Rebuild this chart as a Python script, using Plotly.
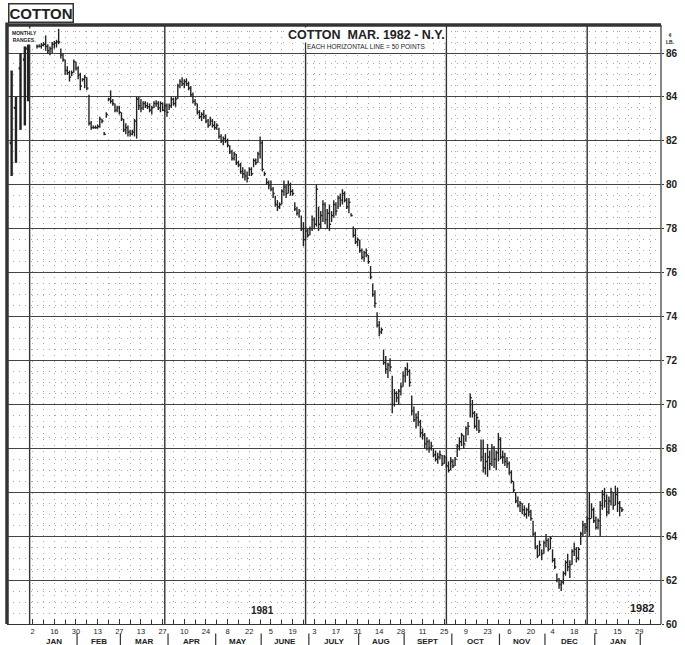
import plotly.graph_objects as go

# ---------------- data ----------------
# trading-day index: 0 = Fri Jan 2 1981, 5 trading days per week
first_day = 2

highs = [
    86.40, 86.40, 86.45, 86.50, 86.80, 86.40, 86.30, 86.50, 86.55, 86.60,
    87.10, 86.20, 86.00, 85.70, 85.40, 85.20, 85.20, 85.70, 85.60, 85.40,
    85.10, 84.85, 85.00, 84.90, 84.10, 82.90, 82.70, 82.70, 82.75, 83.10,
    83.00, 82.40, 83.30, 83.95, 84.30, 83.90, 83.70, 83.60, 83.60, 83.30,
    83.00, 82.80, 82.70, 82.50, 82.50, 83.00, 84.00, 84.00, 83.90, 83.80,
    83.80, 83.75, 83.70, 83.60, 83.80, 83.85, 83.80, 83.80, 83.75, 83.70,
    83.70, 83.70, 84.00, 83.95, 84.00, 84.60, 84.80, 84.90, 84.80, 84.85,
    84.70, 84.50, 84.20, 83.90, 83.70, 83.40, 83.30, 83.40, 83.20, 83.00,
    83.10, 83.00, 82.90, 82.80, 82.60, 82.30, 82.20, 82.30, 82.10, 81.80,
    81.60, 81.50, 81.40, 81.10, 81.00, 80.80, 80.70, 80.60, 80.80, 80.80,
    81.20, 81.20, 81.50, 82.20, 82.00, 80.60, 80.30, 80.20, 80.20, 79.90,
    79.50, 79.30, 79.20, 79.80, 80.20, 80.00, 80.20, 80.10, 79.80, 79.20,
    79.00, 78.90, 78.60, 78.30, 78.10, 78.00, 78.10, 78.60, 78.50, 80.00,
    79.00, 78.80, 79.30, 79.20, 78.90, 79.10, 78.80, 79.30, 79.20, 79.50,
    79.60, 79.80, 79.70, 79.40, 79.40, 78.70, 78.10, 78.00, 77.60, 77.50,
    77.10, 77.00, 77.10, 76.80, 76.30, 75.50, 75.20, 74.20, 73.80, 73.50,
    72.50, 72.20, 71.90, 72.10, 71.30, 70.70, 70.60, 70.70, 71.00, 71.50,
    71.70, 71.90, 71.60, 70.40, 69.90, 69.60, 69.70, 69.30, 68.90, 68.70,
    68.50, 68.40, 68.30, 68.00, 67.90, 67.80, 67.90, 67.70, 67.70, 67.60,
    67.40, 67.60, 67.50, 67.60, 68.20, 68.50, 68.70, 68.60, 69.00, 69.20,
    70.50, 70.20, 69.70, 69.60, 69.30, 68.40, 68.40, 67.80, 68.20, 67.90,
    68.20, 68.10, 67.90, 68.70, 68.50, 67.90, 67.80, 67.60, 67.40, 67.00,
    66.50, 66.00, 65.80, 65.60, 65.50, 65.40, 65.30, 65.50, 65.20, 64.70,
    64.20, 63.60, 63.80, 63.40, 63.80, 64.10, 63.90, 64.00, 63.40, 63.00,
    62.30, 62.10, 62.00, 62.40, 62.90, 63.20, 62.90, 63.40, 63.70, 63.50,
    63.50, 64.20, 64.70, 64.60, 64.90, 66.00, 65.50, 65.30, 64.90, 64.80,
    65.60, 66.10, 66.20, 65.90, 65.80, 66.20, 66.00, 66.30, 66.20, 65.60,
    65.30,
]

lows = [
    86.20, 86.25, 86.20, 86.30, 86.10, 85.95, 85.90, 86.00, 86.20, 86.25,
    86.40, 85.75, 85.60, 85.00, 85.00, 84.70, 84.95, 85.10, 85.20, 84.80,
    84.30, 84.70, 84.40, 84.30, 82.70, 82.50, 82.55, 82.55, 82.55, 82.60,
    82.80, 82.25, 83.05, 83.80, 83.70, 83.60, 83.30, 83.30, 83.20, 82.90,
    82.40, 82.30, 82.20, 82.20, 82.25, 82.20, 82.10, 83.40, 83.30, 83.40,
    83.50, 83.45, 83.30, 83.20, 83.50, 83.55, 83.40, 83.30, 83.35, 83.30,
    83.10, 83.40, 83.50, 83.60, 83.55, 83.90, 84.40, 84.50, 84.40, 84.50,
    84.30, 84.00, 83.70, 83.60, 83.20, 83.00, 82.90, 83.00, 82.80, 82.60,
    82.70, 82.60, 82.50, 82.50, 82.10, 81.90, 81.80, 81.90, 81.70, 81.40,
    81.10, 81.10, 80.90, 80.80, 80.50, 80.30, 80.20, 80.10, 80.40, 80.40,
    80.80, 80.90, 81.00, 81.20, 80.60, 80.40, 80.00, 79.80, 79.70, 79.40,
    79.00, 78.80, 78.90, 79.10, 79.50, 79.40, 79.60, 79.50, 79.50, 78.80,
    78.60, 78.50, 77.90, 77.20, 77.50, 77.60, 77.70, 77.90, 78.00, 78.10,
    77.90, 78.00, 78.30, 78.20, 78.00, 77.90, 78.30, 78.50, 78.60, 78.90,
    79.00, 79.10, 79.20, 78.90, 78.70, 78.55, 77.60, 77.30, 77.20, 76.90,
    76.60, 76.50, 76.70, 76.40, 75.70, 74.90, 74.40, 73.50, 73.10, 73.20,
    71.80, 71.40, 71.20, 71.50, 69.60, 69.90, 70.10, 70.00, 70.40, 70.80,
    71.00, 71.30, 70.80, 69.50, 69.20, 68.90, 69.00, 68.50, 68.40, 68.00,
    67.90, 67.80, 67.90, 67.60, 67.40, 67.30, 67.50, 67.20, 67.30, 67.10,
    66.90, 67.00, 67.10, 67.20, 67.60, 67.90, 68.10, 68.00, 68.30, 68.60,
    69.40, 69.40, 68.90, 68.80, 68.70, 67.40, 66.90, 66.80, 66.70, 67.00,
    67.20, 67.10, 67.00, 67.40, 67.50, 67.30, 67.20, 67.10, 66.80, 66.40,
    66.00, 65.50, 65.30, 65.10, 65.00, 64.90, 64.80, 64.90, 64.70, 64.00,
    63.40, 63.00, 63.10, 62.90, 63.20, 63.50, 63.30, 63.40, 62.80, 62.50,
    61.90, 61.60, 61.50, 61.80, 62.20, 62.40, 62.10, 62.70, 63.10, 62.80,
    62.90, 63.60, 64.00, 64.10, 64.20, 64.00, 64.80, 64.60, 64.30, 64.30,
    64.00, 65.20, 65.30, 64.90, 65.00, 65.40, 65.20, 65.40, 65.10, 64.90,
    65.10,
]

closes = [
    86.30, 86.30, 86.35, 86.40, 86.30, 86.10, 86.20, 86.40, 86.45, 86.50,
    86.50, 85.90, 85.70, 85.20, 85.10, 84.90, 85.10, 85.60, 85.30, 85.00,
    84.50, 84.80, 84.90, 84.40, 82.80, 82.60, 82.60, 82.60, 82.65, 83.00,
    82.90, 82.30, 83.20, 83.90, 83.80, 83.70, 83.40, 83.50, 83.30, 83.00,
    82.50, 82.60, 82.40, 82.30, 82.40, 82.90, 83.90, 83.60, 83.50, 83.70,
    83.60, 83.55, 83.40, 83.50, 83.70, 83.70, 83.50, 83.70, 83.40, 83.60,
    83.30, 83.60, 83.90, 83.70, 83.90, 84.50, 84.70, 84.60, 84.70, 84.60,
    84.40, 84.10, 83.80, 83.70, 83.30, 83.10, 83.20, 83.10, 82.90, 82.70,
    82.90, 82.70, 82.60, 82.70, 82.20, 82.00, 82.10, 82.00, 81.80, 81.50,
    81.20, 81.40, 81.00, 80.90, 80.60, 80.50, 80.40, 80.30, 80.70, 80.50,
    81.10, 81.00, 81.40, 81.90, 80.70, 80.50, 80.10, 80.00, 79.80, 79.60,
    79.10, 79.00, 79.10, 79.70, 79.90, 79.60, 80.00, 79.70, 79.60, 78.90,
    78.70, 78.80, 78.00, 77.50, 77.90, 77.70, 78.00, 78.40, 78.20, 79.80,
    78.20, 78.60, 79.10, 78.40, 78.70, 78.20, 78.60, 79.10, 78.80, 79.40,
    79.30, 79.60, 79.30, 79.00, 79.20, 78.60, 77.70, 77.40, 77.50, 77.00,
    76.70, 76.90, 76.80, 76.50, 75.80, 75.00, 74.60, 73.60, 73.30, 73.40,
    71.90, 71.60, 71.80, 71.70, 70.00, 70.50, 70.30, 70.60, 70.80, 71.30,
    71.60, 71.50, 71.00, 69.70, 69.30, 69.40, 69.20, 68.70, 68.60, 68.20,
    68.30, 68.00, 68.10, 67.70, 67.50, 67.60, 67.70, 67.30, 67.60, 67.20,
    67.00, 67.40, 67.20, 67.50, 68.10, 68.30, 68.60, 68.20, 68.90, 69.00,
    70.30, 69.60, 69.00, 69.40, 68.80, 67.60, 67.10, 67.40, 67.60, 67.30,
    68.00, 67.50, 67.80, 68.40, 67.60, 67.60, 67.40, 67.30, 66.90, 66.50,
    66.10, 65.60, 65.40, 65.50, 65.20, 65.00, 65.20, 65.10, 64.80, 64.10,
    63.50, 63.10, 63.60, 63.20, 63.70, 63.80, 63.40, 63.90, 62.90, 62.60,
    62.00, 61.80, 61.90, 62.30, 62.80, 62.60, 62.70, 63.30, 63.40, 63.00,
    63.40, 64.10, 64.50, 64.40, 64.80, 64.80, 65.20, 64.70, 64.40, 64.70,
    65.40, 65.90, 65.60, 65.10, 65.60, 66.00, 65.40, 65.90, 65.50, 65.30,
    65.20,
]

# monthly ranges panel (left strip)
monthly_pos = [-9.7, -7.7, -5.6, -3.6, -2.1]
monthly_high = [85.2, 84.0, 86.0, 86.3, 86.6]
monthly_low = [80.4, 81.0, 82.5, 82.7, 83.8]
monthly_close = [81.9, 83.5, 85.3, 85.7, 86.2]

# date axis (Fridays, every two weeks)
tick_days = [0, 10, 20, 30, 40, 50, 60, 70, 80, 90, 100, 110, 120, 130, 140,
             150, 160, 170, 180, 190, 200, 210, 220, 230, 240, 250, 260, 270, 280]
tick_labels = ["2", "16", "30", "13", "27", "13", "27", "10", "24", "8", "22",
               "5", "19", "3", "17", "31", "14", "28", "11", "25", "9", "23",
               "6", "20", "4", "18", "1", "15", "29"]
month_names = ["JAN", "FEB", "MAR", "APR", "MAY", "JUNE", "JULY", "AUG",
               "SEPT", "OCT", "NOV", "DEC", "JAN"]
month_ends = [-0.5, 20.5, 40.5, 62.5, 84.5, 105.5, 127.5, 150.5, 171.5,
              193.5, 215.5, 236.5, 259.5, 280.5]
quarter_lines = [-1.4, 61, 126, 191, 256]
price_ticks = list(range(60, 88, 2))

FONT = "Liberation Sans, Arial, sans-serif"
INK = "#222222"
GRID_MINOR = "#a8a8a8"

# ---------------- build figure ----------------
bx, by = [], []
for k, (h, l, c) in enumerate(zip(highs, lows, closes)):
    d = first_day + k
    bx += [d, d, None, d, d + 0.75, None]
    by += [l, h, None, c, c, None]

mx, my = [], []
for p, h, l, c in zip(monthly_pos, monthly_high, monthly_low, monthly_close):
    mx += [p, p, None, p - 0.9, p, None]
    my += [l, h, None, c, c, None]

fig = go.Figure()
fig.add_trace(go.Scatter(x=bx, y=by, mode="lines", line=dict(color=INK, width=1.4),
                         hoverinfo="skip", showlegend=False))
fig.add_trace(go.Scatter(x=mx, y=my, mode="lines", line=dict(color=INK, width=2.4),
                         hoverinfo="skip", showlegend=False))

shapes = []
for q in quarter_lines:
    shapes.append(dict(type="line", xref="x", yref="paper", x0=q, x1=q, y0=0, y1=1,
                       line=dict(color="#333333", width=1.4), layer="below"))
for m in month_ends[1:]:
    shapes.append(dict(type="line", xref="x", yref="paper", x0=m, x1=m, y0=-0.016, y1=-0.04,
                       line=dict(color="#333333", width=1.2)))
# frame
shapes.append(dict(type="line", xref="paper", yref="paper", x0=0, x1=1, y0=1, y1=1,
                   line=dict(color="#333333", width=3.5)))
shapes.append(dict(type="line", xref="paper", yref="paper", x0=0, x1=0, y0=0, y1=1.004,
                   line=dict(color="#333333", width=3.5)))
shapes.append(dict(type="line", xref="paper", yref="paper", x0=1, x1=1, y0=0, y1=1,
                   line=dict(color="#333333", width=1.2)))

annotations = []
annotations.append(dict(text="<b>COTTON</b>", xref="paper", yref="paper", x=0.0015, y=1.0195,
                        xanchor="left", yanchor="middle", showarrow=False,
                        font=dict(family=FONT, size=15, color=INK),
                        bordercolor="#333333", borderwidth=1.5, borderpad=0, bgcolor="white"))
annotations.append(dict(text="<b>COTTON  MAR. 1982 - N.Y.</b>", xref="paper", yref="paper",
                        x=0.549, y=0.9835, xanchor="center", yanchor="middle", showarrow=False,
                        font=dict(family=FONT, size=12.5, color=INK), bgcolor="white", borderpad=0))
annotations.append(dict(text="EACH HORIZONTAL LINE = 50 POINTS", xref="paper", yref="paper",
                        x=0.549, y=0.964, xanchor="center", yanchor="middle", showarrow=False,
                        font=dict(family=FONT, size=6.5, color=INK), bgcolor="white", borderpad=0))
annotations.append(dict(text="<b>¢<br>LB.</b>", xref="paper", yref="paper", x=1.004, y=0.992,
                        xanchor="left", yanchor="top", showarrow=False,
                        font=dict(family=FONT, size=5, color=INK)))
annotations.append(dict(text="<b>MONTHLY<br>RANGES.</b>", xref="paper", yref="paper", x=0.004,
                        y=0.995, xanchor="left", yanchor="top", showarrow=False, align="center",
                        font=dict(family=FONT, size=5, color=INK), bgcolor="white"))
annotations.append(dict(text="<b>1981</b>", xref="paper", yref="paper", x=0.391, y=0.023,
                        xanchor="center", yanchor="middle", showarrow=False,
                        font=dict(family=FONT, size=10, color=INK)))
annotations.append(dict(text="<b>1982</b>", xref="paper", yref="paper", x=0.971, y=0.027,
                        xanchor="center", yanchor="middle", showarrow=False,
                        font=dict(family=FONT, size=11, color=INK)))
for name, a, b in zip(month_names, month_ends[:-1], month_ends[1:]):
    annotations.append(dict(text="<b>" + name + "</b>", xref="x", yref="paper", x=(a + b) / 2,
                            y=-0.0185, xanchor="center", yanchor="top", showarrow=False,
                            font=dict(family=FONT, size=8, color=INK)))

fig.update_layout(
    width=685, height=645,
    margin=dict(l=7, r=15, t=25, b=21),
    paper_bgcolor="white", plot_bgcolor="white",
    showlegend=False,
    shapes=shapes, annotations=annotations,
    xaxis=dict(range=[-11.84, 290.07], tickmode="array", tickvals=tick_days, ticktext=tick_labels,
               ticks="inside", ticklen=5, tickcolor="#333333", tickwidth=1,
               tickfont=dict(family=FONT, size=7.5, color=INK),
               showgrid=False, zeroline=False, showline=True, linecolor="#333333", linewidth=1.3,
               minor=dict(tickmode="array", tickvals=list(range(0, 290, 5)), ticks="inside",
                          ticklen=4, tickcolor="#333333", showgrid=True, gridcolor=GRID_MINOR,
                          griddash="1px,5px", gridwidth=1)),
    yaxis=dict(range=[60, 87.275], side="right", tickmode="array", tickvals=price_ticks,
               ticktext=[str(t) for t in price_ticks], ticks="outside", ticklen=2,
               tickcolor="#333333", tickfont=dict(family=FONT, size=10, color=INK, weight="bold"),
               showgrid=True, gridcolor="#444444", gridwidth=1.4, zeroline=False,
               showline=False,
               minor=dict(dtick=0.5, tick0=60, showgrid=True, gridcolor=GRID_MINOR,
                          griddash="1px,5px", gridwidth=1)),
)

fig.write_html("out.html", config={"displayModeBar": False},
               post_script="document.body.style.margin='0';")
